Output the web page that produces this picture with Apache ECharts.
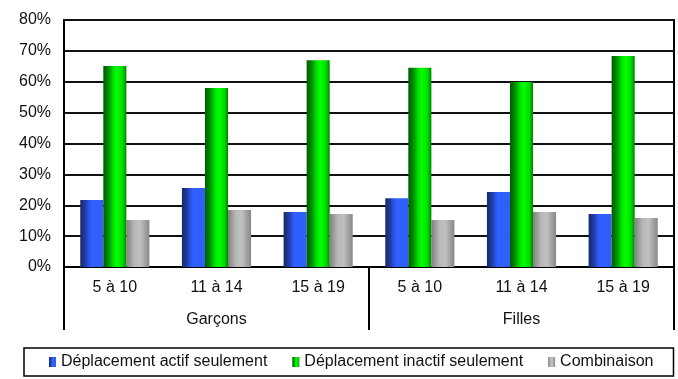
<!DOCTYPE html>
<html>
<head>
<meta charset="utf-8">
<script src="https://cdn.jsdelivr.net/npm/echarts@6/dist/echarts.min.js"></script>
<style>
  html, body { margin: 0; padding: 0; background: #fff; }
  #chart_con { width: 678px; height: 379px; }
</style>
</head>
<body>
<div id="chart_con"></div>
<script>
    // age groups repeated for each sex
    var ageLabels = ['5 à 10', '11 à 14', '15 à 19', '5 à 10', '11 à 14', '15 à 19'];
    var sexLabels = ['Garçons', 'Filles'];
    var seriesNames = ['Déplacement actif seulement', 'Déplacement inactif seulement', 'Combinaison'];

    // percentages
    var actifData = [21.7, 25.6, 17.8, 22.3, 24.3, 17.2];
    var inactifData = [65.1, 58.0, 67.0, 64.5, 59.9, 68.3];
    var combiData = [15.2, 18.5, 17.2, 15.2, 17.8, 15.9];

    var FONT = '"Liberation Sans", Arial, sans-serif';

    function hGrad(stops) {
        return {
            type: 'linear', x: 0, y: 0, x2: 1, y2: 0,
            colorStops: stops.map(function (s) { return {offset: s[0], color: s[1]}; })
        };
    }

    var blueFill = hGrad([[0, '#182a6a'], [0.2, '#1f3a9c'], [0.4, '#2c57ea'], [0.5, '#3060ff'], [1, '#2f5ef8']]);
    var greenFill = hGrad([[0, '#005c00'], [0.2, '#008800'], [0.45, '#00e600'], [0.6, '#00ff00'], [0.85, '#00d800'], [1, '#008000']]);
    var grayFill = hGrad([[0, '#808080'], [0.35, '#b8b8b8'], [0.6, '#c0c0c0'], [1, '#878787']]);

    var chart = echarts.init(document.getElementById('chart_con'));
    chart.setOption({
        animation: false,
        textStyle: {fontFamily: FONT},
        grid: {
            left: 64, right: 4, top: 20, bottom: 112,
            show: true, borderColor: '#000', borderWidth: 2
        },
        legend: {
            data: seriesNames,
            left: 24,
            top: 348,
            padding: [6, 20, 6, 25],
            itemGap: 25,
            itemWidth: 7,
            itemHeight: 10,
            icon: 'rect',
            borderColor: '#000',
            borderWidth: 1.5,
            textStyle: {fontSize: 16, color: '#111', fontFamily: FONT}
        },
        xAxis: [
            {
                type: 'category',
                data: ageLabels,
                position: 'bottom',
                axisLine: {lineStyle: {color: '#000', width: 2}},
                axisTick: {show: false},
                axisLabel: {margin: 13, fontSize: 16, color: '#111', fontFamily: FONT},
                splitLine: {show: false}
            },
            {
                type: 'category',
                data: sexLabels,
                position: 'bottom',
                axisLine: {show: false},
                axisTick: {show: true, length: 63, lineStyle: {color: '#000', width: 2}},
                axisLabel: {margin: 45, fontSize: 16, color: '#111', fontFamily: FONT},
                splitLine: {show: false}
            }
        ],
        yAxis: {
            type: 'value',
            min: 0,
            max: 80,
            interval: 10,
            axisLine: {show: true, lineStyle: {color: '#000', width: 2}},
            axisTick: {show: false},
            axisLabel: {formatter: '{value}%', margin: 13, fontSize: 16, color: '#111', fontFamily: FONT},
            splitLine: {lineStyle: {color: '#111', width: 2}}
        },
        series: [
            {
                name: seriesNames[0],
                type: 'bar',
                data: actifData,
                barGap: '0%',
                barCategoryGap: '32%',
                itemStyle: {color: blueFill}
            },
            {
                name: seriesNames[1],
                type: 'bar',
                data: inactifData,
                barGap: '0%',
                barCategoryGap: '32%',
                itemStyle: {color: greenFill}
            },
            {
                name: seriesNames[2],
                type: 'bar',
                data: combiData,
                barGap: '0%',
                barCategoryGap: '32%',
                itemStyle: {color: grayFill}
            }
        ]
    });
    window.addEventListener('resize', function () {
        chart.resize();
    });
</script>
</body>
</html>
